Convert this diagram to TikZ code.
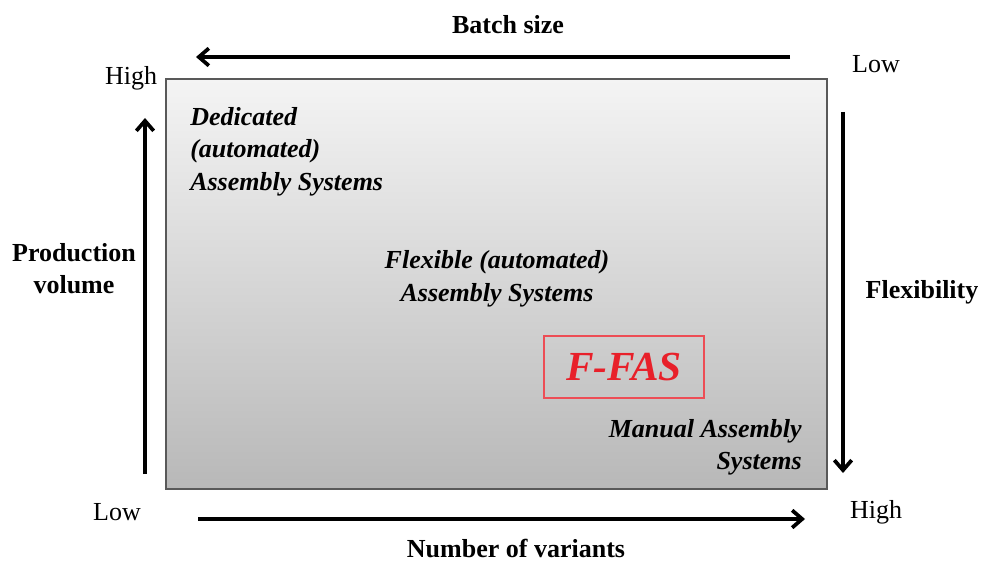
\documentclass[tikz,border=0pt]{standalone}
\usepackage{fontspec}
\setmainfont{Liberation Serif}
\usetikzlibrary{arrows.meta}
\definecolor{boxtop}{HTML}{F4F4F4}
\definecolor{boxbot}{HTML}{B8B8B8}
\definecolor{ffred}{HTML}{E8202A}
\tikzset{
  axis/.style={line width=2.6pt,-{Straight Barb[length=7.5pt,width=13pt,line width=2.8pt]}},
  lbl/.style={font=\fontsize{19.5}{24}\selectfont\bfseries, inner sep=0pt},
  ilbl/.style={font=\fontsize{19.5}{24.5}\selectfont\bfseries\itshape, inner sep=0pt},
  plain/.style={font=\fontsize{19.5}{24}\selectfont, inner sep=0pt},
}
\begin{document}
\begin{tikzpicture}[x=0.75pt,y=-0.75pt]
\useasboundingbox (0,0) rectangle (984,563);
\fill[white] (0,0) rectangle (984,563);
% main box
\shade[top color=boxtop,bottom color=boxbot] (166,79) rectangle (827,489);
\draw[draw=black!65,line width=1.6pt] (166,79) rectangle (827,489);
% labels
\node[lbl] (batch) at (508,25) {Batch size};
\node[lbl] (nvar) at (516,548) {Number of variants};
\node[lbl,align=center] (prod) at (74,269) {Production\\volume};
\node[lbl] (flex) at (922,292) {Flexibility};
\node[plain] (hightl) at (131,78) {High};
\node[plain] (lowtr) at (876,64) {Low};
\node[plain] (lowbl) at (117,512) {Low};
\node[plain] (highbr) at (876,512) {High};
% arrows
\coordinate (ta1) at (790,57); \coordinate (ta2) at (196,57);
\coordinate (la1) at (145,474); \coordinate (la2) at (145,118);
\coordinate (ba1) at (198,519); \coordinate (ba2) at (805,519);
\coordinate (ra1) at (843,112); \coordinate (ra2) at (843,473);
\draw[axis] (ta1) -- (ta2);
\draw[axis] (la1) -- (la2);
\draw[axis] (ba1) -- (ba2);
\draw[axis] (ra1) -- (ra2);
% inside texts
\node[ilbl,align=left,anchor=north west] (ded) at (190,107) {Dedicated\\(automated)\\Assembly Systems};
\node[ilbl,align=center] (fas) at (497,279) {Flexible (automated)\\Assembly Systems};
\node[ilbl,align=right,anchor=north east] (man) at (802,419) {Manual Assembly\\Systems};
\node[draw=ffred!80,line width=0.8pt,minimum width=120pt,minimum height=46.5pt,inner sep=0pt,
      font=\fontsize{31}{36}\selectfont\bfseries\itshape,text=ffred] (ffas) at (624,367) {F-FAS};
\end{tikzpicture}
\end{document}
